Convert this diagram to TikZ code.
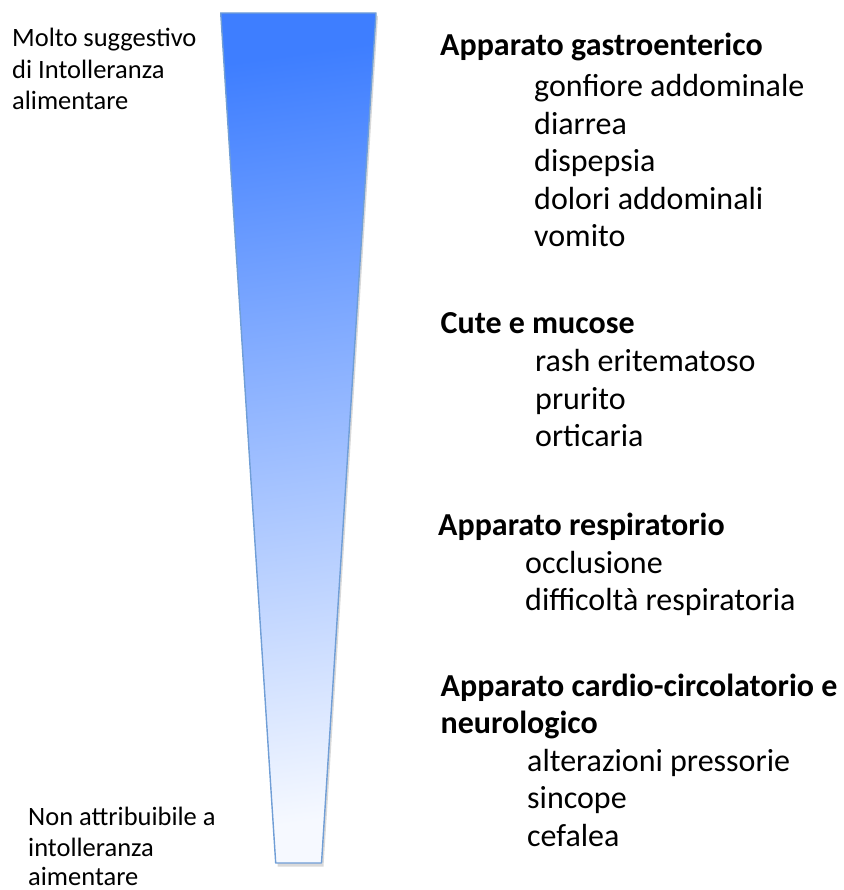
\documentclass[tikz,border=0pt]{standalone}
\usepackage{fontspec}
\setmainfont{Carlito}
\definecolor{topblue}{RGB}{62,126,255}
\definecolor{botblue}{RGB}{246,249,255}
\definecolor{edgeblue}{RGB}{112,158,214}
\tikzset{
  lefttxt/.style={anchor=base west, inner sep=0pt, font=\fontsize{26.5}{32}\selectfont},
  headtxt/.style={anchor=base west, inner sep=0pt, font=\fontsize{32}{37.6}\selectfont\bfseries},
  itemtxt/.style={anchor=base west, inner sep=0pt, font=\fontsize{32}{37.6}\selectfont},
}
\begin{document}
\begin{tikzpicture}[x=1pt,y=-1pt]
\useasboundingbox (0,0) rectangle (843,890);
% funnel
\fill[black,opacity=0.15] (222.7,16) -- (378,16) -- (323.5,866.5) -- (277.7,866.5) -- cycle;
\shade[top color=topblue, bottom color=botblue, shading angle=8]
  (220.7,13) -- (376,13) -- (321.5,863) -- (275.7,863) -- cycle;
\draw[edgeblue, line width=1.4pt, line join=round]
  (220.7,13) -- (376,13) -- (321.5,863) -- (275.7,863) -- cycle;
% left labels
\node[lefttxt] (l1) at (12,46.7) {Molto suggestivo};
\node[lefttxt] (l2) at (12,78.7) {di Intolleranza};
\node[lefttxt] (l3) at (12,110) {alimentare};
\node[lefttxt] (b1) at (28,825) {Non attribuibile a};
\node[lefttxt] (b2) at (28,856) {intolleranza};
\node[lefttxt, text depth=0pt] (b3) at (28,885.5) {aimentare};
% group 1
\node[headtxt] (h1) at (440,56) {Apparato gastroenterico};
\node[itemtxt] (i11) at (534,96.7) {gonfiore addominale};
\node[itemtxt] (i12) at (534,134.3) {diarrea};
\node[itemtxt] (i13) at (534,172) {dispepsia};
\node[itemtxt] (i14) at (534,209.5) {dolori addominali};
\node[itemtxt] (i15) at (534,247) {vomito};
% group 2
\node[headtxt] (h2) at (440.5,333) {Cute e mucose};
\node[itemtxt] (i21) at (535,371.5) {rash eritematoso};
\node[itemtxt] (i22) at (535,409.5) {prurito};
\node[itemtxt] (i23) at (535,446.7) {orticaria};
% group 3
\node[headtxt] (h3) at (438,535) {Apparato respiratorio};
\node[itemtxt] (i31) at (525,573) {occlusione};
\node[itemtxt] (i32) at (525,610) {difficoltà respiratoria};
% group 4
\node[headtxt] (h4) at (440.5,696.7) {Apparato cardio-circolatorio e};
\node[headtxt] (h4b) at (440.5,733.5) {neurologico};
\node[itemtxt] (i41) at (527,771) {alterazioni pressorie};
\node[itemtxt] (i42) at (527,808.5) {sincope};
\node[itemtxt] (i43) at (527,846.5) {cefalea};
\end{tikzpicture}
\end{document}
